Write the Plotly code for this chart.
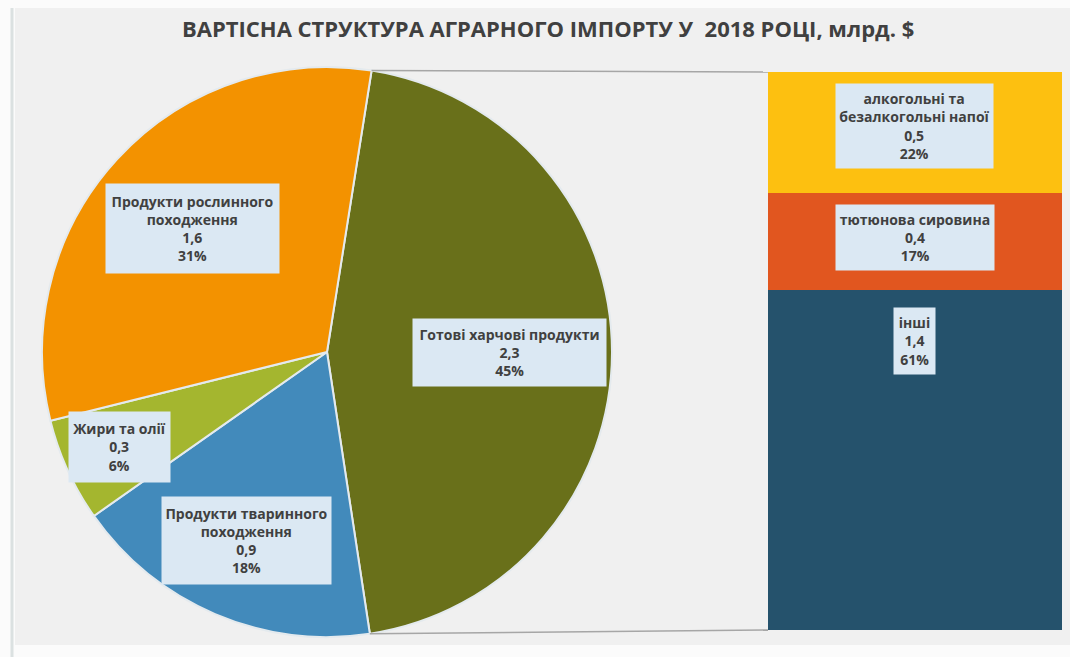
import math
import plotly.graph_objects as go

# ---------------- data ----------------
title_text = "ВАРТІСНА СТРУКТУРА АГРАРНОГО ІМПОРТУ У  2018 РОЦІ, млрд. $"

pie_labels = ["Готові харчові продукти", "Продукти тваринного<br>походження",
              "Жири та олії", "Продукти рослинного<br>походження"]
pie_values = [2.3, 0.9, 0.3, 1.6]

bar_labels = ["інші", "тютюнова сировина", "алкогольні та<br>безалкогольні напої"]
bar_values = [1.4, 0.4, 0.5]

# ---------------- styles ----------------
W, H = 1070, 657
pie_colors = ["#69701a", "#428abb", "#a4b62f", "#f39200"]
bar_colors = ["#25526c", "#e1561f", "#fdc010"]
label_font = "'Open Sans', Lato, sans-serif"
title_font = "'Open Sans', Lato, sans-serif"
text_color = "#404040"
box_color = "#dbe8f3"

pie_cx, pie_cy, pie_r = 327, 352, 285          # px
pie_rotation = 9
pie_label_frac = [0.64, 0.72, 0.80, 0.64]
pie_box = [(193, 67), (169, 87), (101, 70), (173, 89)]
bar_box = [(41, 66), (158, 65), (157, 84)]
bar_box_shift = [-17, -11, -11]
bar_x_px = (768, 1062)
bar_y_px = (72, 630)


def fmt(v):
    return f"{v:.1f}".replace(".", ",")


def px2paper(x, y):
    return x / W, 1 - y / H


fig = go.Figure()

fig.add_trace(go.Pie(
    labels=pie_labels, values=pie_values, sort=False, direction="clockwise",
    rotation=pie_rotation, textinfo="none", hoverinfo="skip",
    marker=dict(colors=pie_colors, line=dict(color="#e4eaee", width=2)),
    domain=dict(x=[(pie_cx - pie_r) / W, (pie_cx + pie_r) / W],
                y=[1 - (pie_cy + pie_r) / H, 1 - (pie_cy - pie_r) / H]),
    showlegend=False,
))

for lab, val, col in zip(bar_labels, bar_values, bar_colors):
    fig.add_trace(go.Bar(x=[0], y=[val], marker=dict(color=col, line=dict(width=0)),
                         hoverinfo="skip", showlegend=False, xaxis="x", yaxis="y"))

annotations = []
total = sum(pie_values)
cum = 0.0
boundaries = []
for i, (lab, val) in enumerate(zip(pie_labels, pie_values)):
    a0 = pie_rotation + 360 * cum / total
    cum += val
    a1 = pie_rotation + 360 * cum / total
    boundaries.append(a0)
    mid = math.radians((a0 + a1) / 2)
    rr = pie_label_frac[i] * pie_r
    px = pie_cx + rr * math.sin(mid)
    py = pie_cy - rr * math.cos(mid)
    xp, yp = px2paper(px, py)
    pct = round(100 * val / total)
    annotations.append(dict(
        x=xp, y=yp, xref="paper", yref="paper", showarrow=False,
        xanchor="center", yanchor="middle",
        text=f"<b>{lab}<br>{fmt(val)}<br>{pct}%</b>",
        font=dict(family=label_font, size=14, color=text_color),
        bgcolor=box_color, borderpad=0,
        width=pie_box[i][0], height=pie_box[i][1], align="center", valign="middle",
    ))

btotal = sum(bar_values)
top = 0.0
for i, (lab, val) in enumerate(zip(bar_labels, bar_values)):
    top += val
    pct = round(100 * val / btotal)
    annotations.append(dict(
        x=0, y=top, xref="x", yref="y", showarrow=False,
        xanchor="center", yanchor="top", yshift=bar_box_shift[i],
        text=f"<b>{lab}<br>{fmt(val)}<br>{pct}%</b>",
        font=dict(family=label_font, size=14, color=text_color),
        bgcolor=box_color, borderpad=0,
        width=bar_box[i][0], height=bar_box[i][1], align="center", valign="middle",
    ))

annotations.append(dict(
    x=548 / W, y=1 - 28 / H, xref="paper", yref="paper", showarrow=False,
    xanchor="center", yanchor="middle",
    text="<b>" + title_text + "</b>",
    font=dict(family=title_font, size=22, color=text_color),
))

# connector lines from the "Готові" slice edges to the bar
first_a = math.radians(boundaries[0])
last_a = math.radians(boundaries[1])
tx, ty = px2paper(pie_cx + pie_r * math.sin(first_a), pie_cy - pie_r * math.cos(first_a))
bx, by = px2paper(pie_cx + pie_r * math.sin(last_a), pie_cy - pie_r * math.cos(last_a))

shapes = [
    dict(type="rect", xref="paper", yref="paper", x0=15 / W, x1=1, y0=1 - 645 / H, y1=1 - 8 / H,
         fillcolor="#f0f0f0", line=dict(width=0), layer="below"),
    dict(type="line", xref="paper", yref="paper", x0=12 / W, x1=12 / W, y0=0, y1=1 - 8 / H,
         line=dict(color="#dbe1e1", width=3), layer="below"),
    dict(type="line", xref="paper", yref="paper", x0=tx, y0=ty, x1=bar_x_px[0] / W,
         y1=1 - bar_y_px[0] / H, line=dict(color="#a6a6a6", width=1.5)),
    dict(type="line", xref="paper", yref="paper", x0=bx, y0=by, x1=bar_x_px[0] / W,
         y1=1 - bar_y_px[1] / H, line=dict(color="#a6a6a6", width=1.5)),
]

fig.update_layout(
    width=W, height=H, margin=dict(l=0, r=0, t=0, b=0),
    paper_bgcolor="#fbfbfb", plot_bgcolor="rgba(0,0,0,0)",
    barmode="stack", bargap=0, separators=", ",
    xaxis=dict(domain=[bar_x_px[0] / W, bar_x_px[1] / W], range=[-0.5, 0.5],
               visible=False, fixedrange=True),
    yaxis=dict(domain=[1 - bar_y_px[1] / H, 1 - bar_y_px[0] / H], range=[0, btotal],
               visible=False, fixedrange=True),
    annotations=annotations, shapes=shapes,
)

fig.write_html("out.html")
